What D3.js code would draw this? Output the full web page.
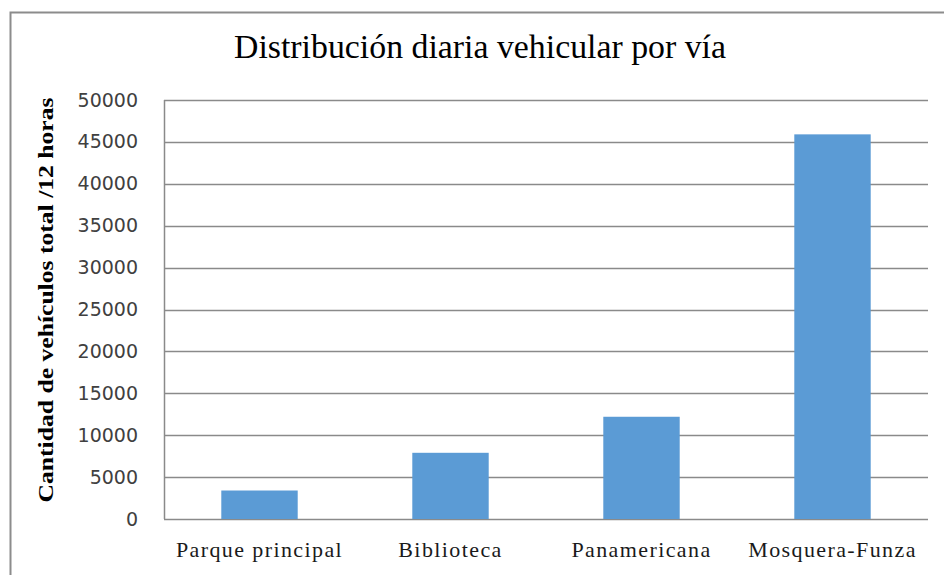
<html lang="es">
<head>
<meta charset="utf-8">
<script src="https://d3js.org/d3.v7.min.js"></script>
<style>
  body { margin: 0; background: #fff; }
</style>
</head>
<body>
<div class="main"></div>
<script>
  // datos
  var vias = ["Parque principal", "Biblioteca", "Panamericana", "Mosquera-Funza"]
  var vehiculos = [3400, 7900, 12200, 45900]
  var yTicks = [0, 5000, 10000, 15000, 20000, 25000, 30000, 35000, 40000, 45000, 50000]
  var titulo = "Distribución diaria vehicular por vía"
  var yTitulo = "Cantidad de vehículos total /12 horas"

  var width = 944
  var height = 575
  var margin = {top: 100, right: 16, bottom: 56, left: 164}

  var svg = d3.select(".main")
    .append("svg")
    .attr("width", width)
    .attr("height", height)

  // marco exterior
  svg.append("path")
    .attr("d", "M10.5," + height + "V12.5H" + width)
    .attr("fill", "none")
    .attr("stroke", "#8c8c8c")
    .attr("stroke-width", 2)

  var x = d3.scaleBand()
    .domain(vias)
    .range([margin.left, width - margin.right])
    .paddingInner(0.6)
    .paddingOuter(0.3)

  var y = d3.scaleLinear()
    .domain([0, 50000])
    .range([height - margin.bottom, margin.top])

  // lineas de cuadricula
  svg.append("g")
    .selectAll("line")
    .data(yTicks)
    .enter()
    .append("line")
    .attr("x1", margin.left)
    .attr("x2", width - margin.right)
    .attr("y1", function(d){ return Math.round(y(d)) + 0.5 })
    .attr("y2", function(d){ return Math.round(y(d)) + 0.5 })
    .attr("stroke", "#8a8a8a")
    .attr("stroke-width", 1.5)

  // eje vertical
  svg.append("line")
    .attr("x1", margin.left + 0.5)
    .attr("x2", margin.left + 0.5)
    .attr("y1", y(50000))
    .attr("y2", y(0))
    .attr("stroke", "#8a8a8a")
    .attr("stroke-width", 1.5)

  svg.append("g")
    .selectAll("rect")
    .data(vehiculos)
    .enter()
    .append("rect")
    .attr("x", function(d, i){ return x(vias[i]) })
    .attr("width", x.bandwidth())
    .attr("y", function(d){ return y(d) })
    .attr("height", function(d){ return y(0) - y(d) })
    .attr("fill", "#5b9bd5")

  // etiquetas del eje y
  var yAxis = svg.append("g")
    .attr("transform", "translate(" + (margin.left - 26) + ",0)")
    .call(d3.axisLeft(y).tickValues(yTicks).tickSize(0).tickPadding(0).tickFormat(d3.format("d")))
  yAxis.select(".domain").remove()
  yAxis.selectAll("text")
    .attr("font-family", "DejaVu Sans, sans-serif")
    .attr("font-size", 19)
    .attr("fill", "#404040")

  // etiquetas del eje x
  var xAxis = svg.append("g")
    .attr("transform", "translate(0," + y(0) + ")")
    .call(d3.axisBottom(x).tickSize(0).tickPadding(22))
  xAxis.select(".domain").remove()
  xAxis.selectAll("text")
    .attr("font-family", "Liberation Serif, serif")
    .attr("font-size", 22)
    .attr("letter-spacing", 1.4)
    .attr("fill", "#1a1a1a")

  svg.append("text")
    .attr("x", 480)
    .attr("y", 58)
    .attr("text-anchor", "middle")
    .attr("font-family", "Liberation Serif, serif")
    .attr("font-size", 33)
    .attr("textLength", 492)
    .attr("lengthAdjust", "spacingAndGlyphs")
    .attr("fill", "#000")
    .text(titulo)

  svg.append("text")
    .attr("transform", "translate(53,300) rotate(-90)")
    .attr("text-anchor", "middle")
    .attr("font-family", "Liberation Serif, serif")
    .attr("font-weight", "bold")
    .attr("font-size", 21)
    .attr("textLength", 405)
    .attr("lengthAdjust", "spacingAndGlyphs")
    .attr("fill", "#000")
    .text(yTitulo)
</script>
</body>
</html>
